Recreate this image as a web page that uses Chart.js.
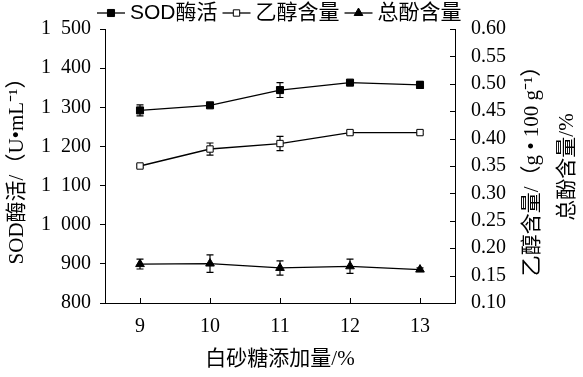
<!DOCTYPE html>
<html>
<head>
<meta charset="utf-8">
<script src="https://cdn.jsdelivr.net/npm/chart.js@4/dist/chart.umd.min.js"></script>
<style>
  html, body { margin: 0; padding: 0; background: #fff; }
  #wrap { width: 583px; height: 377px; }
</style>
</head>
<body>
<div id="wrap"><canvas id="chart" width="583" height="377"></canvas></div>
<script>
// sugar addition levels (%)
const sugarLevels = ['9', '10', '11', '12', '13'];

// SOD activity (U/mL) with error
const sodActivity = [1292, 1305, 1344, 1363, 1357];
const sodError = [14, 5, 19, 4, 9];

// ethanol content (g/100 g) with error
const ethanolContent = [0.350, 0.381, 0.391, 0.411, 0.411];
const ethanolError = [0.002, 0.011, 0.013, 0.003, 0.003];

// total phenol (%) with error
const phenolContent = [0.171, 0.172, 0.164, 0.167, 0.161];
const phenolError = [0.009, 0.016, 0.013, 0.013, 0.003];

const serif = "'Liberation Serif', 'Noto Sans CJK SC', serif";
const mixed = "'Liberation Sans', 'Noto Sans CJK SC', sans-serif";

// vertical error bars, drawn under the markers
const errorBarPlugin = {
    id: 'errorBars',
    beforeDatasetsDraw(chart) {
        const ctx = chart.ctx;
        chart.data.datasets.forEach((ds, i) => {
            const meta = chart.getDatasetMeta(i);
            const scale = chart.scales[ds.yAxisID];
            ctx.save();
            ctx.strokeStyle = '#000';
            ctx.lineWidth = 1.2;
            meta.data.forEach((pt, j) => {
                const v = ds.data[j], e = ds.errors[j];
                const top = scale.getPixelForValue(v + e);
                const bot = scale.getPixelForValue(v - e);
                ctx.beginPath();
                ctx.moveTo(pt.x, top); ctx.lineTo(pt.x, bot);
                ctx.moveTo(pt.x - 3.5, top); ctx.lineTo(pt.x + 3.5, top);
                ctx.moveTo(pt.x - 3.5, bot); ctx.lineTo(pt.x + 3.5, bot);
                ctx.stroke();
            });
            ctx.restore();
        });
    }
};

// inward ticks on x and right axes, legend, right-hand titles
const decorPlugin = {
    id: 'decor',
    afterDraw(chart) {
        const ctx = chart.ctx;
        const x = chart.scales.x, y1 = chart.scales.y1;
        const area = chart.chartArea;
        ctx.save();
        ctx.strokeStyle = '#000';
        ctx.lineWidth = 1;
        ctx.beginPath();
        sugarLevels.forEach((_, i) => {
            const px = Math.round(x.getPixelForValue(i)) + 0.5;
            ctx.moveTo(px, area.bottom); ctx.lineTo(px, area.bottom - 5);
        });
        y1.ticks.forEach(t => {
            const py = Math.round(y1.getPixelForValue(t.value)) + 0.5;
            ctx.moveTo(area.right, py); ctx.lineTo(area.right - 5, py);
        });
        ctx.stroke();

        // legend
        ctx.font = '21px ' + mixed;
        ctx.textBaseline = 'middle';
        ctx.fillStyle = '#000';
        let lx = 97;
        const ly = 13;
        chart.data.datasets.forEach(ds => {
            ctx.beginPath();
            ctx.lineWidth = 1.3;
            ctx.moveTo(lx, ly); ctx.lineTo(lx + 28, ly);
            ctx.stroke();
            ctx.fillStyle = ds.pointBackgroundColor;
            ctx.strokeStyle = '#000';
            ctx.lineWidth = 1;
            Chart.helpers.drawPoint(ctx, {
                pointStyle: ds.pointStyle, radius: ds.pointRadius, rotation: 0, borderWidth: 1
            }, lx + 14, ly);
            ctx.fillStyle = '#000';
            ctx.fillText(ds.label, lx + 33, ly);
            lx += 33 + ctx.measureText(ds.label).width + 5;
        });

        // right-hand axis titles, reading bottom to top
        ctx.font = '21px ' + serif;
        ctx.textAlign = 'center';
        [['乙醇含量/（g • 100 g⁻¹）', 532, 166], ['总酚含量/%', 567, 167]].forEach(([txt, tx, ty]) => {
            ctx.save();
            ctx.translate(tx, ty);
            ctx.rotate(-Math.PI / 2);
            ctx.fillText(txt, 0, 0);
            ctx.restore();
        });
        ctx.restore();
    }
};

const ctx = document.getElementById('chart').getContext('2d');
new Chart(ctx, {
    type: 'line',
    data: {
        labels: sugarLevels,
        datasets: [{
            label: 'SOD酶活',
            data: sodActivity,
            errors: sodError,
            yAxisID: 'y',
            borderColor: '#000',
            borderWidth: 1.3,
            pointStyle: 'rect',
            pointRadius: 5,
            pointBackgroundColor: '#000',
            pointBorderColor: '#000',
            pointBorderWidth: 1
        }, {
            label: '乙醇含量',
            data: ethanolContent,
            errors: ethanolError,
            yAxisID: 'y1',
            borderColor: '#000',
            borderWidth: 1.3,
            pointStyle: 'rect',
            pointRadius: 4.5,
            pointBackgroundColor: '#fff',
            pointBorderColor: '#000',
            pointBorderWidth: 1
        }, {
            label: '总酚含量',
            data: phenolContent,
            errors: phenolError,
            yAxisID: 'y1',
            borderColor: '#000',
            borderWidth: 1.3,
            pointStyle: 'triangle',
            pointRadius: 5,
            pointBackgroundColor: '#000',
            pointBorderColor: '#000',
            pointBorderWidth: 1
        }]
    },
    options: {
        responsive: false,
        animation: false,
        layout: { padding: { top: 29, left: 0, right: 0, bottom: 0 } },
        plugins: {
            legend: { display: false },
            tooltip: { enabled: false }
        },
        scales: {
            x: {
                type: 'category',
                offset: true,
                grid: { display: true, drawOnChartArea: false, drawTicks: false },
                border: { display: true, color: '#000', width: 1 },
                ticks: { color: '#000', padding: 12, font: { family: serif, size: 20 } },
                title: {
                    display: true, text: '白砂糖添加量/%', color: '#000',
                    font: { family: serif, size: 21 }, padding: { top: 0, bottom: 5 }
                },
                afterFit(scale) { scale.height = 74; }
            },
            y: {
                position: 'left',
                min: 800, max: 1500,
                ticks: {
                    stepSize: 100, color: '#000', padding: 9,
                    font: { family: serif, size: 20 },
                    callback: v => v >= 1000 ? Math.floor(v / 1000) + '  ' + String(v % 1000).padStart(3, '0') : String(v)
                },
                grid: { drawOnChartArea: false, drawTicks: true, tickLength: 5, color: '#000' },
                border: { display: true, color: '#000', width: 1 },
                title: {
                    display: true, text: 'SOD酶活/（U•mL⁻¹）', color: '#000',
                    font: { family: serif, size: 21 }, padding: { top: 5, bottom: 0 }
                },
                afterFit(scale) { scale.width = 105; }
            },
            y1: {
                position: 'right',
                min: 0.10, max: 0.60,
                ticks: {
                    stepSize: 0.05, color: '#000', padding: 16,
                    font: { family: serif, size: 20 },
                    callback: v => v.toFixed(2)
                },
                grid: { display: true, drawOnChartArea: false, drawTicks: false },
                border: { display: true, color: '#000', width: 1 },
                afterFit(scale) { scale.width = 128; }
            }
        }
    },
    plugins: [errorBarPlugin, decorPlugin]
});
</script>
</body>
</html>
